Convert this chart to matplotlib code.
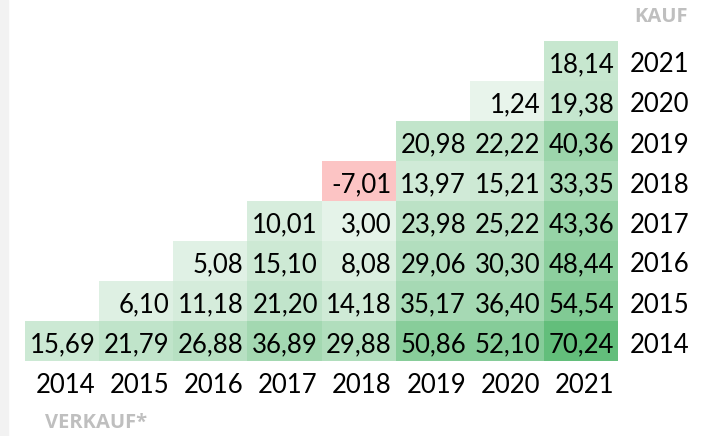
import numpy as np
import matplotlib
matplotlib.use("Agg")
import matplotlib.pyplot as plt
from matplotlib.colors import LinearSegmentedColormap

# Verkaufsjahre (Spalten) und Kaufjahre (Zeilen, oben 2021)
verkauf = [2014, 2015, 2016, 2017, 2018, 2019, 2020, 2021]
kauf = [2021, 2020, 2019, 2018, 2017, 2016, 2015, 2014]

# Rendite je Kaufjahr, Werte ab Verkaufsjahr = Kaufjahr
r2021 = [18.14]
r2020 = [1.24, 19.38]
r2019 = [20.98, 22.22, 40.36]
r2018 = [-7.01, 13.97, 15.21, 33.35]
r2017 = [10.01, 3.00, 23.98, 25.22, 43.36]
r2016 = [5.08, 15.10, 8.08, 29.06, 30.30, 48.44]
r2015 = [6.10, 11.18, 21.20, 14.18, 35.17, 36.40, 54.54]
r2014 = [15.69, 21.79, 26.88, 36.89, 29.88, 50.86, 52.10, 70.24]

rows = [r2021, r2020, r2019, r2018, r2017, r2016, r2015, r2014]

n = len(verkauf)
grid = np.full((n, n), np.nan)
for i, vals in enumerate(rows):
    grid[i, n - len(vals):] = vals

plt.rcParams['font.family'] = ['Lato', 'DejaVu Sans']

W, H = 717, 436
fig = plt.figure(figsize=(W / 100, H / 100), dpi=100)

# grauer Balken links
fig.patches.append(plt.Rectangle((0, 0), 8 / W, 1, transform=fig.transFigure,
                                 color='#f2f2f2', zorder=0))

x0, x1, y0, y1 = 25, 618, 41, 361
ax = fig.add_axes([x0 / W, 1 - y1 / H, (x1 - x0) / W, (y1 - y0) / H])

green = LinearSegmentedColormap.from_list('g', ['#eaf5ed', '#63be7b'])
vmax = np.nanmax(grid)
pos = np.ma.masked_where(~(grid >= 0), grid)
neg = np.ma.masked_where(~(grid < 0), grid)

ax.pcolormesh(np.arange(n + 1), np.arange(n + 1), pos, cmap=green,
              vmin=0, vmax=vmax, shading='flat')
ax.pcolormesh(np.arange(n + 1), np.arange(n + 1), neg,
              cmap=LinearSegmentedColormap.from_list('r', ['#fcc4c4', '#fcc4c4']),
              shading='flat')
ax.set_xlim(0, n)
ax.set_ylim(n, 0)
ax.axis('off')

fs = 18.5
for i in range(n):
    for j in range(n):
        v = grid[i, j]
        if np.isnan(v):
            continue
        txt = f"{v:.2f}".replace('.', ',')
        ax.text(j + 0.95, i + 0.6, txt, ha='right', va='center',
                fontsize=fs, color='black')

# Zeilenbeschriftung (Kaufjahr)
for i, k in enumerate(kauf):
    ax.text(8.165, i + 0.6, str(k), ha='left', va='center',
            fontsize=fs, color='black', clip_on=False)

# Spaltenbeschriftung (Verkaufsjahr)
for j, v in enumerate(verkauf):
    ax.text(j + 0.95, 8.62, str(v), ha='right', va='center',
            fontsize=fs, color='black', clip_on=False)

fig.text(688 / W, 1 - 17 / H, "KAUF", ha='right', va='center',
         fontsize=14.5, fontweight='bold', color='#bfbfbf', family='Open Sans')
fig.text(45 / W, 1 - 423 / H, "VERKAUF*", ha='left', va='center',
         fontsize=14.5, fontweight='bold', color='#bfbfbf', family='Open Sans')

fig.savefig("out.png", dpi=100)
